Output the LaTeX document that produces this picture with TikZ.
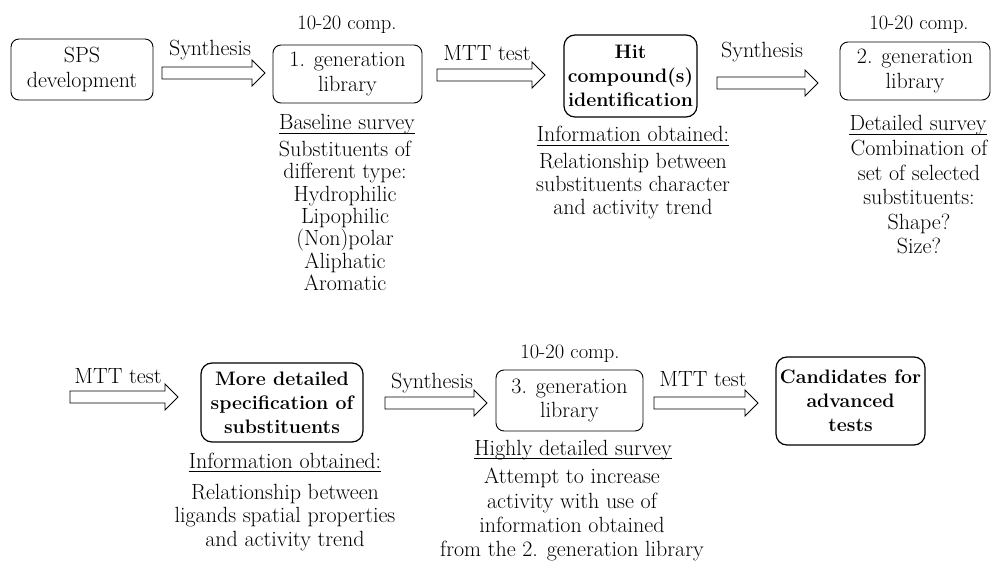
\documentclass[tikz,border=0pt]{standalone}
\usepackage{fontspec}
\usetikzlibrary{positioning,calc}

\tikzset{
  box/.style={draw, rounded corners=8pt, line width=0.9pt, align=center, inner sep=1pt,
    font=\fontsize{22}{24.5}\selectfont},
  keybox/.style={box, line width=1.2pt, rounded corners=11pt,
    font=\fontsize{19.5}{24}\selectfont\bfseries},
  fatarrow/.style={draw, line width=0.8pt, fill=white},
  lbl/.style={anchor=base, inner sep=0pt},
  body/.style={anchor=north, align=center, inner sep=0pt},
  comp/.style={lbl, font=\fontsize{20.5}{23}\selectfont},
}
\newcommand{\hollowarrow}[2]{%
  \draw[fatarrow] ($(#1)+(0,-6)$) -- ($(#2)+(-13,-6)$) -- ($(#2)+(-13,-13)$)
    -- (#2) -- ($(#2)+(-13,13)$) -- ($(#2)+(-13,6)$) -- ($(#1)+(0,6)$) -- cycle;}

\begin{document}
\begin{tikzpicture}[x=1pt, y=-1pt, font=\fontsize{22}{23}\selectfont]
  \useasboundingbox (0,0) rectangle (993,561);
  % 첫째 줄
  \node[box, minimum width=142, minimum height=61] (sps) at (82,69.5) {SPS\\development};
  \node[box, minimum width=149, minimum height=58] (gen1) at (347.5,74) {1. generation\\library};
  \node[keybox, minimum width=133, minimum height=82] (hit) at (630.5,76) {Hit\\compound(s)\\identification};
  \node[box, minimum width=150, minimum height=58] (gen2) at (915,71) {2. generation\\library};
  \node[comp] (comp1) at (347,30) {10-20 comp.};
  \node[comp] (comp2) at (919,30) {10-20 comp.};

  \coordinate (a1s) at (162,73);  \coordinate (a1e) at (265,73);
  \coordinate (a2s) at (437,75);  \coordinate (a2e) at (545,75);
  \coordinate (a3s) at (717,83);  \coordinate (a3e) at (818,83);
  \hollowarrow{a1s}{a1e}
  \hollowarrow{a2s}{a2e}
  \hollowarrow{a3s}{a3e}
  \node[lbl] (syn1) at (210,56) {Synthesis};
  \node[lbl] (mtt1) at (487,61) {MTT test};
  \node[lbl] (syn2) at (762,58) {Synthesis};

  % 설명 글
  \node[lbl] (base1) at (347,130) {Baseline survey};
  \node[body, font=\fontsize{22}{22.3}\selectfont] (list1) at (345,141)
    {Substituents of\\different type:\\Hydrophilic\\Lipophilic\\(Non)polar\\Aliphatic\\Aromatic};
  \node[lbl] (info1) at (633,142) {Information obtained:};
  \node[body] (rel1) at (633,153)
    {Relationship between\\substituents character\\and activity trend};
  \node[lbl] (detail2) at (918,131) {Detailed survey};
  \node[body, font=\fontsize{22}{24.5}\selectfont] (comb2) at (919,140)
    {Combination of\\set of selected\\substituents:\\Shape?\\Size?};

  % 둘째 줄
  \node[keybox, minimum width=162, minimum height=79] (spec) at (282,402.5) {More detailed\\specification of\\substituents};
  \node[box, minimum width=147, minimum height=61] (gen3) at (569.5,400.5) {3. generation\\library};
  \node[keybox, minimum width=149, minimum height=88] (cand) at (850.5,401) {Candidates for\\advanced\\tests};
  \node[comp] (comp3) at (570,358) {10-20 comp.};

  \coordinate (a4s) at (70,397);  \coordinate (a4e) at (178,397);
  \coordinate (a5s) at (385,403); \coordinate (a5e) at (487,403);
  \coordinate (a6s) at (654,403); \coordinate (a6e) at (758,403);
  \hollowarrow{a4s}{a4e}
  \hollowarrow{a5s}{a5e}
  \hollowarrow{a6s}{a6e}
  \node[lbl] (mtt2) at (118,383) {MTT test};
  \node[lbl] (syn3) at (432,388) {Synthesis};
  \node[lbl] (mtt3) at (703,386) {MTT test};

  \node[lbl] (info2) at (285,468) {Information obtained:};
  \node[body, font=\fontsize{22}{23.5}\selectfont] (rel2) at (285,484)
    {Relationship between\\ligands spatial properties\\and activity trend};
  \node[lbl] (high3) at (573,455) {Highly detailed survey};
  \node[body, font=\fontsize{22}{24.3}\selectfont] (try3) at (572,468)
    {Attempt to increase\\activity with use of\\information obtained\\from the 2. generation library};

  % 밑줄
  \foreach \n in {base1,info1,detail2,info2,high3}
    \draw[line width=0.8pt] ($(\n.base west)+(0,3.5)$) -- ($(\n.base east)+(0,3.5)$);
\end{tikzpicture}
\end{document}
